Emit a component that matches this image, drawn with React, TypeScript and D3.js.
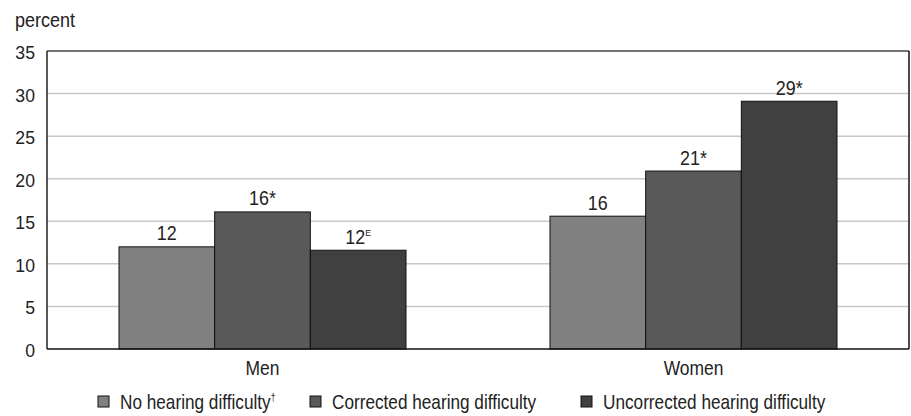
import React from "react";
import * as d3 from "d3";

const categories = ["Men", "Women"];
const seriesNames = ["No hearing difficulty", "Corrected hearing difficulty", "Uncorrected hearing difficulty"];
const seriesSup = ["†", "", ""];
const seriesColors = ["#808080", "#595959", "#404040"];
const values = [
  [12.0, 16.1, 11.6],
  [15.6, 20.9, 29.1],
];
const valueLabels = [
  ["12", "16*", "12"],
  ["16", "21*", "29*"],
];
const valueSups = [
  ["", "", "E"],
  ["", "", ""],
];
const yTicks = [0, 5, 10, 15, 20, 25, 30, 35];

const W = 911, H = 416;
const M = { left: 47, right: 2, top: 51, bottom: 67 };
const FONT = "'Liberation Sans', Arial, sans-serif";

function T({ x, y, sx = 0.85, size = 20, anchor = "start", children }: any) {
  return (
    <g transform={`translate(${x},${y}) scale(${sx},1)`}>
      <text x={0} y={0} fontSize={size} textAnchor={anchor} fill="#222">{children}</text>
    </g>
  );
}

export default function App() {
  const x0 = d3.scaleBand().domain(categories).range([M.left, W - M.right]).paddingInner(0).paddingOuter(0);
  const groupW = 287;
  const x1 = d3.scaleBand().domain(seriesNames).range([0, groupW]).padding(0);
  const y = d3.scaleLinear().domain([0, 35]).range([H - M.bottom, M.top]);
  const left = M.left, right = W - M.right, top = M.top, bottom = H - M.bottom;
  const legendX = [98, 310, 581];
  const legendY = 396;
  return (
    <svg width={W} height={H} style={{ position: "absolute", left: 0, top: 0, fontFamily: FONT }}>
      <rect width={W} height={H} fill="#fff" />
      <T x={15} y={27} size={20} sx={0.9}>percent</T>
      {yTicks.map((t) => (
        <g key={t}>
          {t > 0 && t < 35 && (
            <line x1={left} x2={right} y1={y(t)} y2={y(t)} stroke="#c8c8c8" strokeWidth={1.5} />
          )}
          <T x={35} y={y(t) + 8} size={18} sx={0.98} anchor="end">{t}</T>
        </g>
      ))}
      <line x1={left} x2={right} y1={top} y2={top} stroke="#444" strokeWidth={1.5} />
      <line x1={right} x2={right} y1={top} y2={bottom} stroke="#111" strokeWidth={1.5} />
      {categories.map((c, ci) => {
        const gx = (x0(c) as number) + (x0.bandwidth() - groupW) / 2;
        return (
          <g key={c}>
            {seriesNames.map((s, si) => {
              const bx = gx + (x1(s) as number);
              const v = values[ci][si];
              const cx = bx + x1.bandwidth() / 2;
              return (
                <g key={s}>
                  <rect x={bx} y={y(v)} width={x1.bandwidth()} height={bottom - y(v)} fill={seriesColors[si]} stroke="#111" strokeWidth={1} />
                  <T x={cx} y={y(v) - 6.5} size={19.5} sx={0.92} anchor="middle">
                    {valueLabels[ci][si]}
                    {valueSups[ci][si] && <tspan fontSize={9.5} dy={-8}>{valueSups[ci][si]}</tspan>}
                  </T>
                </g>
              );
            })}
            <T x={(x0(c) as number) + x0.bandwidth() / 2} y={375} size={21} sx={0.83} anchor="middle">{c}</T>
          </g>
        );
      })}
      <line x1={left} x2={left} y1={top} y2={bottom} stroke="#222" strokeWidth={1.5} />
      <line x1={left} x2={right} y1={bottom} y2={bottom} stroke="#111" strokeWidth={1.5} />
      {seriesNames.map((s, si) => (
        <g key={s}>
          <rect x={legendX[si]} y={legendY} width={11} height={11} fill={seriesColors[si]} stroke="#111" strokeWidth={1} />
          <T x={legendX[si] + 22} y={legendY + 12.5} size={20} sx={0.86}>
            {s}
            {seriesSup[si] && <tspan fontSize={10} dy={-8}>{seriesSup[si]}</tspan>}
          </T>
        </g>
      ))}
    </svg>
  );
}
